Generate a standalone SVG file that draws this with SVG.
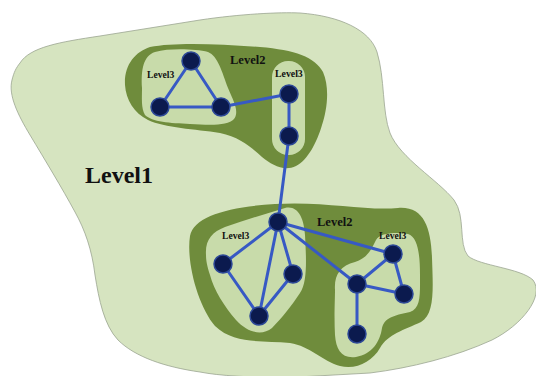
<svg xmlns="http://www.w3.org/2000/svg" width="536" height="376" viewBox="0 0 536 376">
<style>
.l1{fill:#d6e4c0;stroke:#9aa590;stroke-width:0.8}
.l2{fill:#6f8c3c}
.l3{fill:#c8dbaa}
.e{stroke:#3759c4;stroke-width:3;fill:none;stroke-linecap:round}
.n{fill:#0b1a4e;stroke:#2c4896;stroke-width:1.5}
.t{font-family:"Liberation Serif","Times New Roman",serif;font-weight:bold;fill:#111}
</style>
<rect width="536" height="376" fill="#ffffff"/>
<g id="level1">
<path class="l1" d="M20,63 C30,47 60,42 100,36 L200,20 C240,14 280,12 300,13 C340,16 370,30 377,52 C385,78 382,112 390,133 C400,158 438,180 454,200 C466,216 458,244 468,256 C480,266 520,268 533,280 C545,296 522,325 492,340 C455,357 410,368 370,373 L280,378 C250,377 220,376 200,372 C165,367 135,357 118,340 C104,325 99,300 95,275 C92,250 85,230 75,212 C62,188 45,160 30,135 C18,115 8,95 12,80 C14,72 16,68 20,63 Z"/>
<text class="t" x="85" y="183" font-size="24">Level1</text>
</g>
<g id="level2-top">
<path class="l2" d="M125,85 C124,65 135,52 150,47 C175,42 220,44 260,47 C295,50 315,57 323,72 C330,88 327,110 322,125 C317,142 308,160 296,166 C284,172 272,165 262,157 C252,148 240,137 220,133 C195,129 165,128 148,120 C134,113 126,100 125,85 Z"/>
<text class="t" x="230" y="64" font-size="12.5">Level2</text>
</g>
<g id="level3-top-left">
<path class="l3" d="M142,88 C141,70 143,56 155,52 C170,48 195,49 208,52 C218,56 222,72 228,88 C233,100 240,112 234,119 C228,126 210,125 190,124 C170,123 152,122 145,115 C141,108 142,98 142,88 Z"/>
<text class="t" x="147" y="78" font-size="9.6">Level3</text>
</g>
<g id="level3-top-right">
<rect class="l3" x="272" y="61" width="33" height="94" rx="16"/>
<text class="t" x="275" y="77" font-size="9.8">Level3</text>
</g>
<g id="level2-bottom">
<path class="l2" d="M190,236 C194,216 228,207 275,204 C325,201 365,211 398,208 C424,206 431,228 432,258 C433,288 435,314 421,322 C404,330 388,334 380,348 C372,362 356,370 340,366 C322,361 310,346 290,343 C262,340 235,345 215,326 C198,306 186,262 190,236 Z"/>
<text class="t" x="317" y="226" font-size="12.5">Level2</text>
</g>
<g id="level3-bottom-left">
<path class="l3" d="M206,255 C205,240 212,232 225,227 C245,220 265,214 285,208 C298,205 304,218 305,235 C306,255 308,282 300,293 C292,305 282,318 272,328 C262,336 248,333 236,320 C224,306 214,290 210,275 C207,266 206,260 206,255 Z"/>
<text class="t" x="222" y="239" font-size="9.6">Level3</text>
</g>
<g id="level3-bottom-right">
<path class="l3" d="M335,290 C334,275 340,266 355,262 C368,258 372,248 376,240 C380,233 395,232 408,234 C418,237 420,255 420,275 C420,295 421,308 410,312 C398,315 385,316 382,328 C380,342 372,354 356,357 C342,359 336,350 335,335 C334,318 335,300 335,290 Z"/>
<text class="t" x="379" y="239" font-size="9.6">Level3</text>
</g>
<g id="connectors">
<line class="e" x1="191" y1="61" x2="160" y2="107"/>
<line class="e" x1="191" y1="61" x2="221" y2="107"/>
<line class="e" x1="160" y1="107" x2="221" y2="107"/>
<line class="e" x1="221" y1="107" x2="289" y2="94"/>
<line class="e" x1="289" y1="94" x2="289" y2="136"/>
<line class="e" x1="289" y1="136" x2="278" y2="222"/>
<line class="e" x1="278" y1="222" x2="223" y2="264"/>
<line class="e" x1="278" y1="222" x2="259" y2="316"/>
<line class="e" x1="278" y1="222" x2="293" y2="274"/>
<line class="e" x1="293" y1="274" x2="259" y2="316"/>
<line class="e" x1="223" y1="264" x2="259" y2="316"/>
<line class="e" x1="278" y1="222" x2="357" y2="284"/>
<line class="e" x1="278" y1="222" x2="393" y2="254"/>
<line class="e" x1="357" y1="284" x2="393" y2="254"/>
<line class="e" x1="357" y1="284" x2="404" y2="294"/>
<line class="e" x1="393" y1="254" x2="404" y2="294"/>
<line class="e" x1="357" y1="284" x2="357" y2="334"/>
</g>
<g id="nodes">
<circle id="n1" class="n" cx="191" cy="61" r="9"/>
<circle id="n2" class="n" cx="160" cy="107" r="9"/>
<circle id="n3" class="n" cx="221" cy="107" r="9"/>
<circle id="n4" class="n" cx="289" cy="94" r="9"/>
<circle id="n5" class="n" cx="289" cy="136" r="9"/>
<circle id="n6" class="n" cx="278" cy="222" r="9"/>
<circle id="n7" class="n" cx="223" cy="264" r="9"/>
<circle id="n8" class="n" cx="293" cy="274" r="9"/>
<circle id="n9" class="n" cx="259" cy="316" r="9"/>
<circle id="n10" class="n" cx="357" cy="284" r="9"/>
<circle id="n11" class="n" cx="393" cy="254" r="9"/>
<circle id="n12" class="n" cx="404" cy="294" r="9"/>
<circle id="n13" class="n" cx="357" cy="334" r="9"/>
</g>
</svg>
